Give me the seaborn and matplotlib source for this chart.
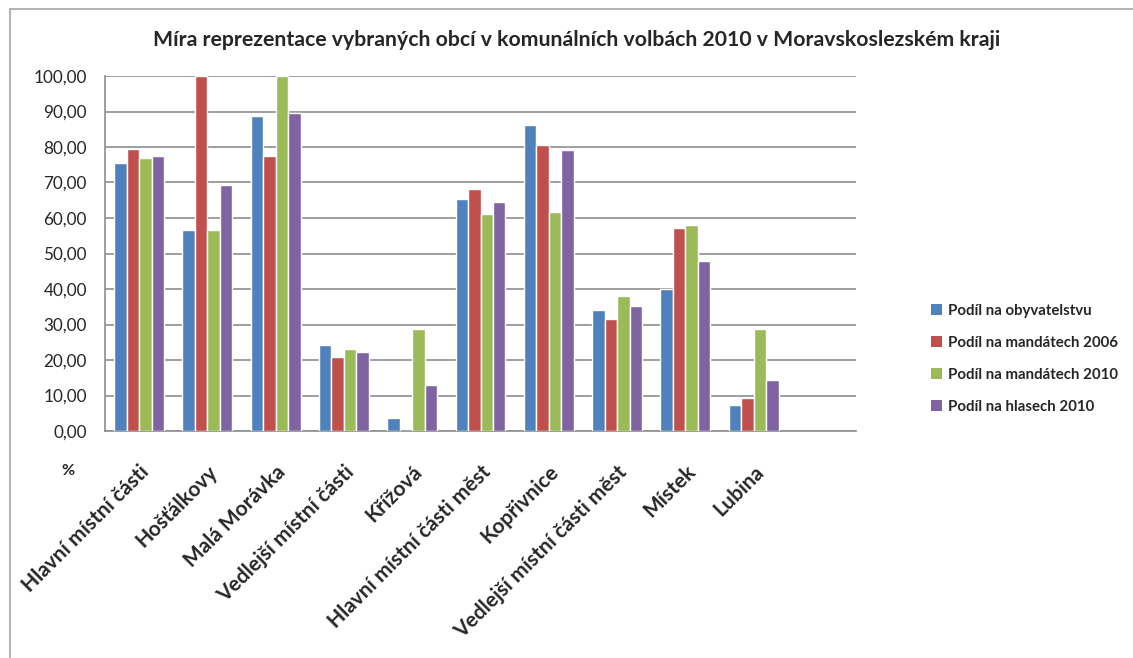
import matplotlib
matplotlib.use("Agg")
import matplotlib.pyplot as plt
from matplotlib.patches import Patch
from matplotlib.ticker import FuncFormatter, MultipleLocator
import numpy as np
import pandas as pd
import seaborn as sns

categories = ["Hlavní místní části", "Hošťálkovy", "Malá Morávka", "Vedlejší místní části",
              "Křížová", "Hlavní místní části měst", "Kopřivnice", "Vedlejší místní části měst",
              "Místek", "Lubina", ""]
series = ["Podíl na obyvatelstvu", "Podíl na mandátech 2006",
          "Podíl na mandátech 2010", "Podíl na hlasech 2010"]
obyvatelstvo = [75.6, 56.7, 88.6, 24.3, 3.7, 65.4, 86.3, 34.1, 40.0, 7.4]
mandaty_2006 = [79.3, 100.0, 77.6, 20.9, 0.0, 68.3, 80.6, 31.6, 57.3, 9.4]
mandaty_2010 = [76.8, 56.7, 100.0, 23.2, 28.6, 61.1, 61.8, 37.9, 58.1, 28.6]
hlasy_2010 = [77.6, 69.4, 89.5, 22.3, 13.0, 64.6, 79.2, 35.2, 48.0, 14.4]
colors = ["#4F81BD", "#C0504D", "#9BBB59", "#8064A2"]

rows = []
for name, vals in zip(series, [obyvatelstvo, mandaty_2006, mandaty_2010, hlasy_2010]):
    for cat, v in zip(categories[:-1], vals):
        rows.append({"obec": cat, "rada": name, "hodnota": v})
df = pd.DataFrame(rows)

sns.set_style("white")
plt.rcParams["font.family"] = ["Lato", "DejaVu Sans"]

fig = plt.figure(figsize=(11.33, 6.58), dpi=100)
ax = fig.add_axes([105 / 1133, 1 - 431 / 658, 751 / 1133, 355 / 658])

sns.barplot(data=df, x="obec", y="hodnota", hue="rada", order=categories,
            hue_order=series, palette=colors, width=0.73, saturation=1,
            errorbar=None, ax=ax, legend=False, zorder=3)

ax.set_xlim(-0.5, len(categories) - 0.5)
ax.set_ylim(0, 100)
ax.yaxis.set_major_locator(MultipleLocator(10))
ax.yaxis.set_major_formatter(FuncFormatter(lambda v, p: f"{v:.2f}".replace(".", ",")))
ax.grid(axis="y", color="#8e8e8e", linewidth=1.2, zorder=0)
ax.set_axisbelow(True)

for s in ["top", "right"]:
    ax.spines[s].set_visible(False)
for s in ["left", "bottom"]:
    ax.spines[s].set_color("#8e8e8e")
    ax.spines[s].set_linewidth(1.2)

ax.set_xticks(np.arange(len(categories)))
ax.set_xticklabels(categories, rotation=45, ha="right", rotation_mode="anchor",
                   fontsize=15, fontweight="bold")
ax.set_xticks(np.arange(len(categories) + 1) - 0.5, minor=True)
ax.tick_params(axis="x", which="major", length=0, pad=22)
ax.tick_params(axis="x", which="minor", length=5, color="#8e8e8e", width=1.2)
ax.tick_params(axis="y", length=5, color="#8e8e8e", width=1.2, labelsize=12.3, pad=8)
ax.set_xlabel("")
ax.set_ylabel("")

fig.text(68 / 1133, 1 - 471 / 658, "%", fontsize=11.5, fontweight="bold", ha="center", va="center")
fig.text(577 / 1133, 1 - 40 / 658,
         "Míra reprezentace vybraných obcí v komunálních volbách 2010 v Moravskoslezském kraji",
         fontsize=15.3, fontweight="bold", ha="center", va="center")

handles = [Patch(facecolor=c, edgecolor="none") for c in colors]
fig.legend(handles, series, loc="center left", bbox_to_anchor=(917 / 1133, 1 - 359 / 658),
           frameon=False, prop={"weight": "bold", "size": 10.8}, handlelength=0.75,
           handleheight=0.75, handletextpad=0.4, labelspacing=1.2)

# chart area border (left and top edges visible)
fig.add_artist(plt.Line2D([10 / 1133, 10 / 1133], [0, 1 - 9 / 658], transform=fig.transFigure,
                          color="#a6a6a6", linewidth=1.2))
fig.add_artist(plt.Line2D([10 / 1133, 1], [1 - 9 / 658, 1 - 9 / 658], transform=fig.transFigure,
                          color="#a6a6a6", linewidth=1.2))

fig.savefig("out.png", dpi=100)
